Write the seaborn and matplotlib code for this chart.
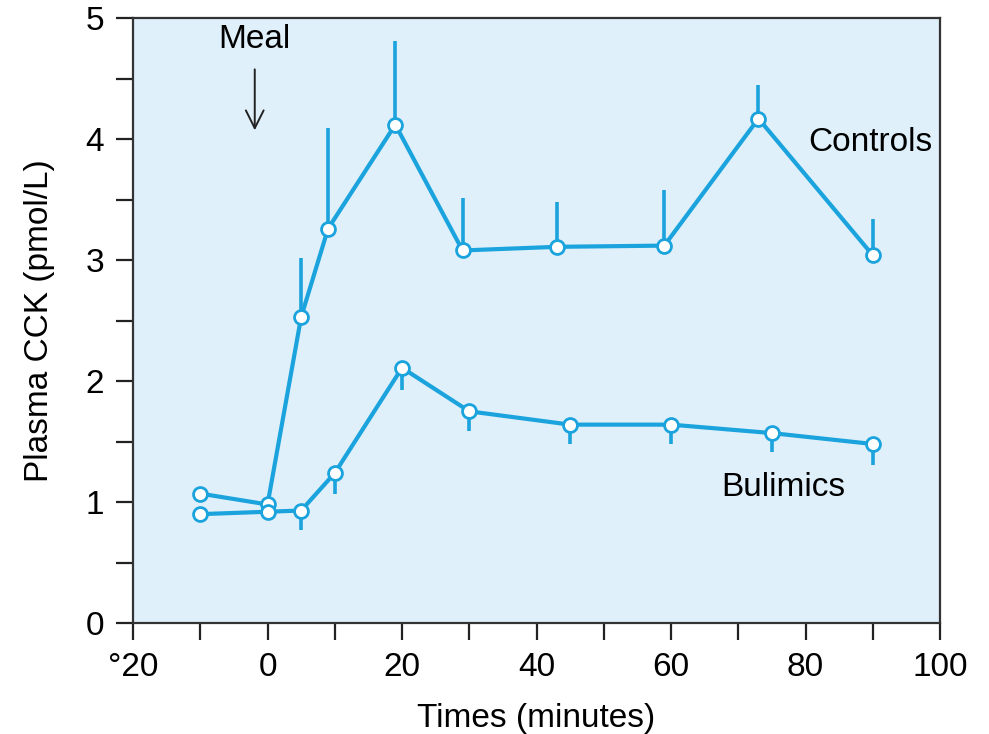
import pandas as pd
import seaborn as sns
import matplotlib.pyplot as plt
from matplotlib.ticker import MultipleLocator, FixedLocator

# Controls
ctrl_time = [-10, 0, 5, 9, 19, 29, 43, 59, 73, 90]
ctrl_cck = [1.07, 0.98, 2.53, 3.26, 4.12, 3.08, 3.11, 3.12, 4.17, 3.04]
ctrl_err = [0.0, 0.0, 0.49, 0.83, 0.69, 0.43, 0.37, 0.46, 0.28, 0.30]

# Bulimics
bul_time = [-10, 0, 5, 10, 20, 30, 45, 60, 75, 90]
bul_cck = [0.90, 0.92, 0.93, 1.24, 2.11, 1.75, 1.64, 1.64, 1.57, 1.48]
bul_err = [0.0, 0.0, 0.16, 0.17, 0.18, 0.16, 0.16, 0.16, 0.16, 0.17]

x_ticks = [-20, 0, 20, 40, 60, 80, 100]
x_tick_labels = ["°20", "0", "20", "40", "60", "80", "100"]

blue = "#1ba3dd"

sns.set_style("ticks")
plt.rcParams["font.family"] = ["Liberation Sans", "DejaVu Sans"]
plt.rcParams["text.color"] = "black"
plt.rcParams["axes.labelcolor"] = "black"

df = pd.concat([
    pd.DataFrame({"time": ctrl_time, "cck": ctrl_cck, "group": "Controls"}),
    pd.DataFrame({"time": bul_time, "cck": bul_cck, "group": "Bulimics"}),
])

fig = plt.figure(figsize=(9.89, 7.34), dpi=100)
ax = fig.add_axes([0.1345, 0.1512, 0.816, 0.824])
ax.set_facecolor("#dff0fa")

# one-sided error bars: up for controls, down for bulimics
ax.vlines(ctrl_time, ctrl_cck, [c + e for c, e in zip(ctrl_cck, ctrl_err)],
          color=blue, lw=2.6, zorder=2)
ax.vlines(bul_time, [b - e for b, e in zip(bul_cck, bul_err)], bul_cck,
          color=blue, lw=2.6, zorder=2)

for g in ["Controls", "Bulimics"]:
    sns.lineplot(data=df[df["group"] == g], x="time", y="cck", ax=ax,
                 color=blue, lw=3, marker="o", markersize=10,
                 markerfacecolor="white", markeredgecolor=blue,
                 markeredgewidth=2, sort=False, zorder=3)

ax.set_xlim(-20, 100)
ax.set_ylim(0, 5)
ax.xaxis.set_major_locator(FixedLocator(x_ticks))
ax.set_xticklabels(x_tick_labels)
ax.xaxis.set_minor_locator(MultipleLocator(10))
ax.yaxis.set_major_locator(MultipleLocator(1))
ax.yaxis.set_minor_locator(MultipleLocator(0.5))
ax.tick_params(which="both", direction="out", length=12, width=1.6,
               color="#222222", labelcolor="black", labelsize=24, pad=9)
for s in ax.spines.values():
    s.set_linewidth(1.6)
    s.set_color("#333333")

ax.set_xlabel("Times (minutes)", fontsize=24, labelpad=14)
ax.set_ylabel("Plasma CCK (pmol/L)", fontsize=24, labelpad=22)

ax.annotate("", xy=(-1.9, 4.05), xytext=(-1.9, 4.6),
            arrowprops=dict(arrowstyle="->", color="#222222", lw=1.4,
                            mutation_scale=32))
ax.text(-1.9, 4.82, "Meal", fontsize=24, ha="center", va="center")
ax.text(89.6, 3.97, "Controls", fontsize=24, ha="center", va="center")
ax.text(76.7, 1.12, "Bulimics", fontsize=24, ha="center", va="center")

fig.savefig("out.png", dpi=100)
